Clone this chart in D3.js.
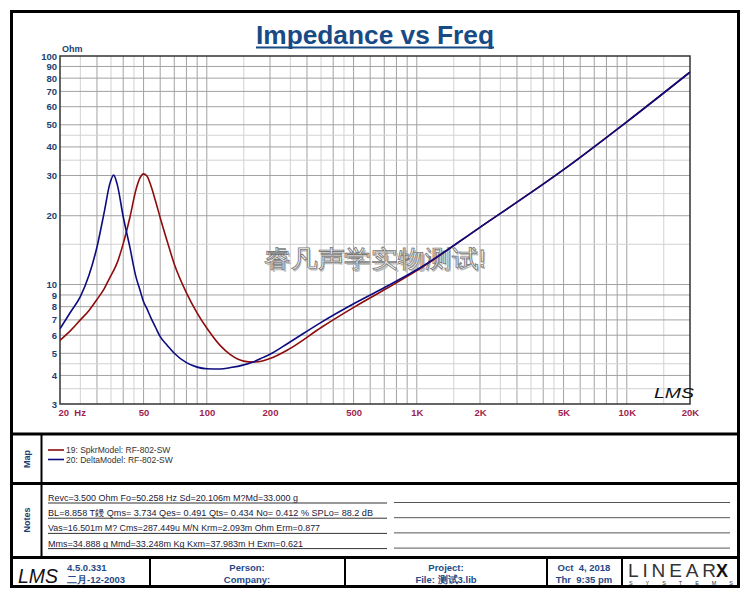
<!DOCTYPE html>
<html>
<head>
<meta charset="utf-8">
<script src="https://cdn.jsdelivr.net/npm/d3@7"></script>
<style>
  body { margin: 0; background: #fff; }
  svg text { font-family: "Liberation Sans", Arial, sans-serif; }
</style>
</head>
<body>
<svg width="750" height="600"></svg>
<script>
// frequencies (Hz), shared by both curves
const freqs = [20, 22.5, 25, 27.5, 30, 32.5, 34.5, 36, 37.5, 40, 43, 46, 48, 50, 52, 54, 57, 60, 65, 70,
  80, 90, 100, 116, 130, 150, 166, 186, 200, 245, 352, 508, 732, 1000, 2000, 5000, 10000, 20000];

// impedance (Ohm)
const spkrModel = [5.7, 6.3, 7.0, 7.7, 8.6, 9.6, 10.7, 11.5, 12.5, 15.1, 19.6, 26.0, 29.2, 30.5, 29.8, 27.3, 23.2, 19.6, 15.3, 12.3,
  9.2, 7.5, 6.45, 5.4, 4.92, 4.62, 4.58, 4.64, 4.74, 5.2, 6.5, 8.0, 9.7, 11.5, 17.8, 31.8, 51.5, 85];
const deltaModel = [6.4, 7.6, 8.85, 11.0, 14.6, 20.8, 27.5, 30.1, 27.3, 19.8, 14.6, 10.8, 9.5, 8.4, 7.8, 7.2, 6.5, 5.91, 5.4, 5.0,
  4.55, 4.35, 4.28, 4.27, 4.33, 4.45, 4.58, 4.8, 4.95, 5.55, 6.85, 8.3, 9.9, 11.6, 17.8, 31.8, 51.5, 85];

const seriesNames = ['19: SpkrModel: RF-802-SW', '20: DeltaModel: RF-802-SW'];
const seriesColors = ['#8e0c0c', '#0c0c80'];

const yTicks = [3, 4, 5, 6, 7, 8, 9, 10, 20, 30, 40, 50, 60, 70, 80, 90, 100];
const xTicks = [20, 50, 100, 200, 500, 1000, 2000, 5000, 10000, 20000];
const xTickLabels = ['20  Hz', '50', '100', '200', '500', '1K', '2K', '5K', '10K', '20K'];
const gridMults = [1, 1.5, 2, 2.5, 3, 3.5, 4, 4.5, 5, 6, 7, 8, 9];

const notes = [
  'Revc=3.500 Ohm  Fo=50.258 Hz  Sd=20.106m M?Md=33.000 g',
  'BL=8.858 T鏝  Qms= 3.734  Qes= 0.491  Qts= 0.434  No= 0.412 %  SPLo= 88.2 dB',
  'Vas=16.501m M? Cms=287.449u M/N  Krm=2.093m Ohm  Erm=0.877',
  'Mms=34.888 g  Mmd=33.248m Kg  Kxm=37.983m H  Exm=0.621'
];
const notesWidths = [250, 325, 272, 255];

const svg = d3.select('svg');
const plot = { left: 60, right: 690, top: 56, bottom: 404 };
const navy = '#1d3f72';

const x = d3.scaleLog().domain([20, 20000]).range([plot.left, plot.right]);
const y = d3.scaleLog().domain([3, 100]).range([plot.bottom, plot.top]);

// page frame and panel dividers
svg.append('rect').attr('x', 11.5).attr('y', 11.5).attr('width', 727).attr('height', 575)
  .attr('fill', '#fff').attr('stroke', '#000').attr('stroke-width', 3);
[434, 483.5, 557.5].forEach(yy => {
  svg.append('line').attr('x1', 11).attr('x2', 739).attr('y1', yy).attr('y2', yy)
    .attr('stroke', '#000').attr('stroke-width', 3);
});
svg.append('line').attr('x1', 41.5).attr('x2', 41.5).attr('y1', 434).attr('y2', 557)
  .attr('stroke', '#000').attr('stroke-width', 2);
[150, 345, 547, 622].forEach(xx => {
  svg.append('line').attr('x1', xx).attr('x2', xx).attr('y1', 558).attr('y2', 586)
    .attr('stroke', '#000').attr('stroke-width', 2);
});

// title
svg.append('text')
  .attr('x', 375).attr('y', 44)
  .attr('text-anchor', 'middle')
  .attr('fill', '#184a86')
  .attr('font-size', 25).attr('font-weight', 'bold')
  .attr('font-family', '"DejaVu Sans", Verdana, sans-serif')
  .attr('textLength', 238).attr('lengthAdjust', 'spacingAndGlyphs')
  .text('Impedance vs Freq');
svg.append('line').attr('x1', 256).attr('x2', 494).attr('y1', 47.5).attr('y2', 47.5)
  .attr('stroke', '#184a86').attr('stroke-width', 2);

// grid
const xGrid = [];
[10, 100, 1000, 10000].forEach(dec => gridMults.forEach(m => {
  const f = dec * m;
  if (f > 20 && f < 20000) xGrid.push({ v: f, major: Number.isInteger(m) });
}));
const yGrid = [];
[1, 10].forEach(dec => gridMults.forEach(m => {
  const v = dec * m;
  if (v > 3 && v < 100) yGrid.push({ v: v, major: Number.isInteger(m) });
}));

const grid = svg.append('g');
grid.selectAll('.gx').data(xGrid).enter().append('line')
  .attr('x1', d => x(d.v)).attr('x2', d => x(d.v))
  .attr('y1', plot.top).attr('y2', plot.bottom)
  .attr('stroke', d => d.major ? '#a2a2a2' : '#d2d2d2').attr('stroke-width', 1);
grid.selectAll('.gy').data(yGrid).enter().append('line')
  .attr('x1', plot.left).attr('x2', plot.right)
  .attr('y1', d => y(d.v)).attr('y2', d => y(d.v))
  .attr('stroke', d => d.major ? '#a2a2a2' : '#d2d2d2').attr('stroke-width', 1);

svg.append('rect')
  .attr('x', plot.left).attr('y', plot.top)
  .attr('width', plot.right - plot.left).attr('height', plot.bottom - plot.top)
  .attr('fill', 'none').attr('stroke', '#333').attr('stroke-width', 1.5);

// axes
const yAxis = svg.append('g')
  .attr('transform', `translate(${plot.left - 2},0)`)
  .call(d3.axisLeft(y).tickValues(yTicks).tickFormat(d3.format('d')).tickSize(0).tickPadding(1));
yAxis.select('.domain').remove();
yAxis.selectAll('text')
  .attr('fill', navy).attr('font-size', 9.5).attr('font-weight', 'bold')
  .attr('font-family', '"Liberation Sans", Arial, sans-serif');

const xAxis = svg.append('g')
  .attr('transform', `translate(0,${plot.bottom + 2})`)
  .call(d3.axisBottom(x).tickValues(xTicks).tickFormat((d, i) => xTickLabels[i]).tickSize(0).tickPadding(3));
xAxis.select('.domain').remove();
xAxis.selectAll('text')
  .attr('fill', '#a01e4e').attr('font-size', 9.5).attr('font-weight', 'bold')
  .attr('font-family', '"Liberation Sans", Arial, sans-serif')
  .attr('text-anchor', (d, i) => i === 0 ? 'start' : 'middle')
  .attr('dx', (d, i) => i === 0 ? -2 : 0)
  .style('white-space', 'pre');

svg.append('text')
  .attr('x', plot.left + 2).attr('y', plot.top - 4)
  .attr('fill', navy).attr('font-size', 9).attr('font-weight', 'bold')
  .text('Ohm');

// watermark (sits under the curves): grey shadow, then white glyphs with a thin outline
const mark = '睿凡声学实物测试!';
[['#bdbdbd', 1.5, 'none'], ['#fff', 0, '#7a7a7a']].forEach(([fill, off, stroke]) => {
  svg.append('text')
    .attr('x', 375 + off).attr('y', 267 + off)
    .attr('text-anchor', 'middle')
    .attr('font-family', '"Noto Sans CJK SC", sans-serif')
    .attr('font-weight', 300)
    .attr('font-size', 24)
    .attr('fill', fill).attr('stroke', stroke).attr('stroke-width', 0.8)
    .attr('textLength', 222).attr('lengthAdjust', 'spacingAndGlyphs')
    .text(mark);
});

// curves
svg.append('clipPath').attr('id', 'plotClip').append('rect')
  .attr('x', plot.left).attr('y', plot.top)
  .attr('width', plot.right - plot.left).attr('height', plot.bottom - plot.top);

const line = d3.line()
  .x(d => x(d[0]))
  .y(d => y(d[1]))
  .curve(d3.curveMonotoneX);

[spkrModel, deltaModel].forEach((vals, i) => {
  svg.append('path')
    .datum(freqs.map((f, j) => [f, vals[j]]))
    .attr('clip-path', 'url(#plotClip)')
    .attr('fill', 'none')
    .attr('stroke', seriesColors[i])
    .attr('stroke-width', 1.6)
    .attr('d', line);
});

// LMS marks
svg.append('text')
  .attr('x', 654).attr('y', 398)
  .attr('font-family', '"DejaVu Serif", serif').attr('font-style', 'italic')
  .attr('font-size', 15).attr('fill', '#111')
  .attr('textLength', 40).attr('lengthAdjust', 'spacingAndGlyphs')
  .text('LMS');
svg.append('text')
  .attr('x', 18).attr('y', 583)
  .attr('font-family', '"DejaVu Serif", serif').attr('font-style', 'italic')
  .attr('font-size', 21).attr('fill', '#111')
  .attr('textLength', 40).attr('lengthAdjust', 'spacingAndGlyphs')
  .text('LMS');

// map (legend) panel
svg.append('text')
  .attr('transform', 'translate(30,459) rotate(-90)')
  .attr('text-anchor', 'middle')
  .attr('fill', navy).attr('font-size', 9).attr('font-weight', 'bold')
  .text('Map');

const legend = svg.selectAll('.legend').data(seriesNames).enter().append('g')
  .attr('transform', (d, i) => `translate(48,${450 + i * 9.5})`);
legend.append('line').attr('x1', 0).attr('x2', 16).attr('y1', 0).attr('y2', 0)
  .attr('stroke', (d, i) => seriesColors[i]).attr('stroke-width', 1.6);
legend.append('text').attr('x', 18).attr('y', 3)
  .attr('fill', '#333').attr('font-size', 8.5)
  .text(d => d);

// notes panel
svg.append('text')
  .attr('transform', 'translate(30,520) rotate(-90)')
  .attr('text-anchor', 'middle')
  .attr('fill', navy).attr('font-size', 9).attr('font-weight', 'bold')
  .text('Notes');

const noteRows = svg.selectAll('.note').data(notes).enter().append('g')
  .attr('transform', (d, i) => `translate(0,${501 + i * 15.2})`);
noteRows.append('text').attr('x', 48).attr('y', 0)
  .attr('fill', '#1a1a3a').attr('font-size', 9)
  .attr('textLength', (d, i) => notesWidths[i]).attr('lengthAdjust', 'spacingAndGlyphs')
  .text(d => d);
noteRows.append('line').attr('x1', 48).attr('x2', 387).attr('y1', 2).attr('y2', 2)
  .attr('stroke', '#333').attr('stroke-width', 1);
noteRows.append('line').attr('x1', 394).attr('x2', 730).attr('y1', 1.5).attr('y2', 1.5)
  .attr('stroke', '#555').attr('stroke-width', 1);

// footer
const footer = [
  { x: 67, anchor: 'start', lines: ['4.5.0.331', '二月-12-2003'] },
  { x: 247, anchor: 'middle', lines: ['Person:', 'Company:'] },
  { x: 446, anchor: 'middle', lines: ['Project:', 'File: 测试3.lib'] },
  { x: 584, anchor: 'middle', lines: ['Oct  4, 2018', 'Thr  9:35 pm'] }
];
footer.forEach(cell => {
  cell.lines.forEach((t, i) => {
    svg.append('text')
      .attr('x', cell.x).attr('y', 571 + i * 12)
      .attr('text-anchor', cell.anchor)
      .attr('fill', '#1f4a86').attr('font-size', 9.5).attr('font-weight', 'bold')
      .attr('font-family', '"Liberation Sans", "Noto Sans CJK SC", sans-serif')
      .style('white-space', 'pre')
      .text(t);
  });
});

// LinearX logo
svg.append('text')
  .attr('x', 628).attr('y', 577)
  .attr('font-family', '"Liberation Serif", serif').attr('font-size', 19)
  .attr('fill', '#333')
  .attr('textLength', 88).attr('lengthAdjust', 'spacing')
  .text('LINEAR');
svg.append('text')
  .attr('x', 716).attr('y', 577)
  .attr('font-family', '"DejaVu Sans", sans-serif').attr('font-size', 18).attr('font-weight', 'bold')
  .attr('fill', '#111')
  .text('X');
svg.append('text')
  .attr('x', 629).attr('y', 585)
  .attr('font-family', '"Liberation Sans", sans-serif').attr('font-size', 5.5)
  .attr('fill', '#333')
  .attr('textLength', 104).attr('lengthAdjust', 'spacing')
  .text('SYSTEMS');
</script>
</body>
</html>
